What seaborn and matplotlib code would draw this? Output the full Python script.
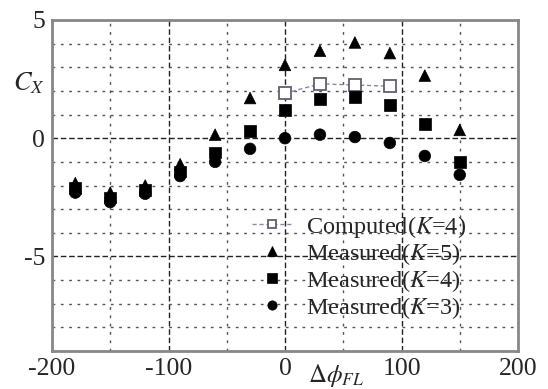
import matplotlib
matplotlib.use("Agg")
import matplotlib.pyplot as plt
import matplotlib.ticker as mticker
import seaborn as sns
import pandas as pd

# ---- data ----
phi = [-180, -150, -120, -90, -60, -30, 0, 30, 60, 90, 120, 150]
meas_k5 = [-1.9, -2.3, -2.0, -1.1, 0.15, 1.7, 3.1, 3.7, 4.05, 3.6, 2.65, 0.35]
meas_k4 = [-2.1, -2.5, -2.2, -1.4, -0.6, 0.3, 1.2, 1.65, 1.75, 1.4, 0.6, -1.0]
meas_k3 = [-2.3, -2.7, -2.35, -1.6, -1.0, -0.45, 0.0, 0.15, 0.05, -0.2, -0.75, -1.55]
phi_comp = [0, 30, 60, 90]
comp_k4 = [1.9, 2.3, 2.25, 2.2]
x_ticks = [-200, -100, 0, 100, 200]
y_ticks = [-5, 0, 5]

sns.set_style("white")
plt.rcParams['font.family'] = ['Liberation Serif', 'DejaVu Serif']
plt.rcParams['mathtext.fontset'] = 'stix'

df_meas = pd.DataFrame({
    'phi': phi * 3,
    'cx': meas_k5 + meas_k4 + meas_k3,
    'series': (['Measured($\\mathit{K}$=5)'] * len(phi)
               + ['Measured($\\mathit{K}$=4)'] * len(phi)
               + ['Measured($\\mathit{K}$=3)'] * len(phi)),
})
df_comp = pd.DataFrame({'phi': phi_comp, 'cx': comp_k4})

fig = plt.figure(figsize=(5.48, 3.89), dpi=100)
ax = fig.add_axes([52/548, 38/389, 466/548, 331/389])

sns.lineplot(data=df_comp, x='phi', y='cx', ax=ax, color='#8a8aa8',
             linestyle=(0, (3, 2)), lw=1.0, marker='s', markersize=8,
             markerfacecolor='white', markeredgecolor='#606070',
             markeredgewidth=1.3, label='Computed($\\mathit{K}$=4)', zorder=4)
sns.scatterplot(data=df_meas, x='phi', y='cx', hue='series', style='series',
                markers={'Measured($\\mathit{K}$=5)': '^',
                         'Measured($\\mathit{K}$=4)': 's',
                         'Measured($\\mathit{K}$=3)': 'o'},
                palette=['black', 'black', 'black'], s=70, edgecolor='black',
                linewidth=0.5, ax=ax, zorder=5)

ax.set_xlim(-200, 200)
ax.set_ylim(-9, 5)
ax.xaxis.set_major_locator(mticker.FixedLocator(x_ticks))
ax.yaxis.set_major_locator(mticker.FixedLocator(y_ticks))
ax.xaxis.set_minor_locator(mticker.MultipleLocator(50))
ax.yaxis.set_minor_locator(mticker.MultipleLocator(1))
ax.set_xticklabels([str(v) for v in x_ticks])
ax.set_yticklabels([str(v) for v in y_ticks])
ax.tick_params(which='both', length=0)
ax.tick_params(axis='x', labelsize=18.5, pad=5)
ax.tick_params(axis='y', labelsize=18.5, pad=5)
ax.grid(which='major', color='#222222', linestyle=(0, (4, 2)), lw=1.0)
ax.grid(which='minor', color='#555555', linestyle=(0, (2, 4)), lw=1.0)
ax.set_axisbelow(True)
for s in ax.spines.values():
    s.set_color('#888888')
    s.set_linewidth(2)
    s.set_visible(True)

ax.set_xlabel('')
ax.set_ylabel('')
ax.text(-0.05, 0.81, '$C_X$', transform=ax.transAxes, fontsize=19,
        ha='center', va='center')
ax.text(0.61, -0.075, '$\\Delta\\phi_{FL}$', transform=ax.transAxes,
        fontsize=18, ha='center', va='center')

ax.legend(loc='lower left', bbox_to_anchor=(0.404, 0.054), frameon=False,
          fontsize=17.5, handlelength=1.6, handletextpad=0.6, labelspacing=0.05,
          borderpad=0.0, markerscale=0.8)

fig.savefig('out.png', dpi=100)
